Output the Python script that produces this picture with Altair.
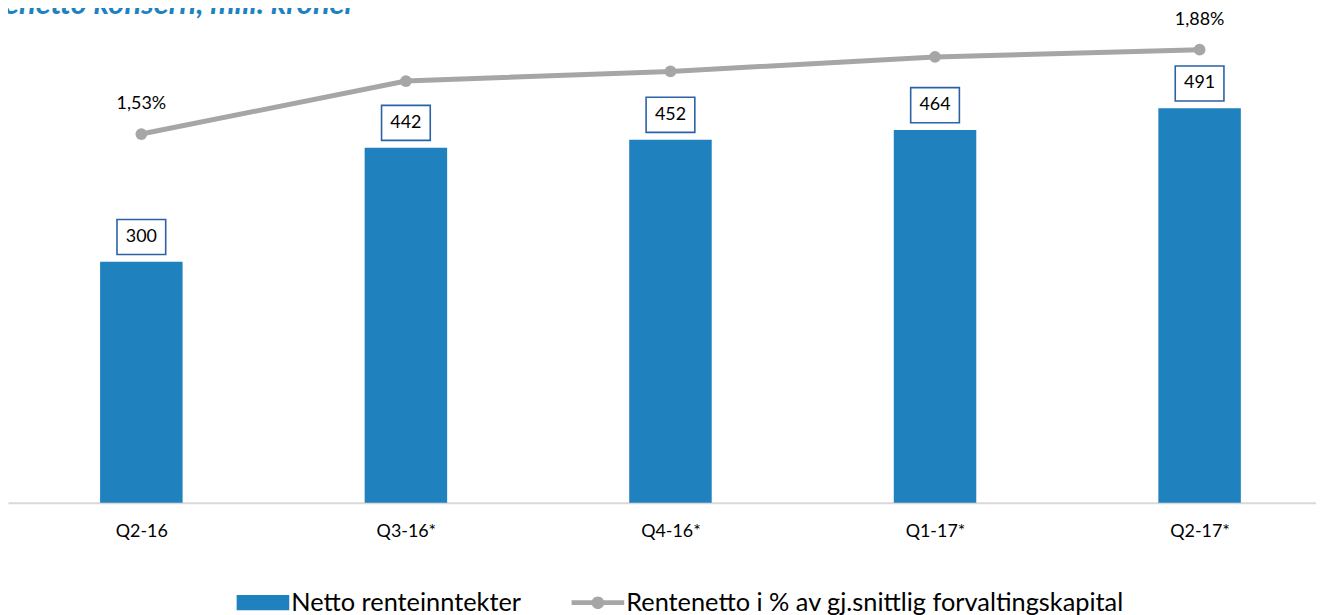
import altair as alt
import pandas as pd
import json

# ---- data ----
quarters = ["Q2-16", "Q3-16*", "Q4-16*", "Q1-17*", "Q2-17*"]
netto = [300, 442, 452, 464, 491]
pct = [1.53, 1.75, 1.79, 1.85, 1.88]
pct_labels = ["1,53%", "", "", "", "1,88%"]
series_names = ["Netto renteinntekter", "Rentenetto i % av gj.snittlig forvaltingskapital"]
title_text = ["enetto konsern, mill. kroner"]

BLUE = "#1F81BD"
GRAY = "#A6A6A6"
BOX = "#2A62A6"
FONT = "Lato"

df = pd.DataFrame({"i": list(range(len(quarters))), "q": quarters, "netto": netto,
                   "pct": pct, "plabel": pct_labels})
leg = pd.DataFrame({"series": series_names})
tdf = pd.DataFrame({"t": title_text})

BOX_PATH = "M-1,-0.72L1,-0.72L1,0.72L-1,0.72Z"
RECT_SYM = "M-1,-0.29L1,-0.29L1,0.29L-1,0.29Z"
LINE_SYM = "M-1,-0.09L1,-0.09L1,0.09L-1,0.09Z M0.24,0A0.24,0.24,0,1,1,-0.24,0A0.24,0.24,0,1,1,0.24,0Z"

xenc = alt.X(
    "i:Q", title=None,
    scale=alt.Scale(domain=[-0.504, 4.44], nice=False, zero=False, padding=0),
    axis=alt.Axis(values=list(range(len(quarters))), labelExpr=f"{json.dumps(quarters)}[datum.value]",
                  labelAngle=0, ticks=False, grid=False, domainColor="#D9D9D9", domainWidth=2,
                  labelFont=FONT, labelFontSize=18, labelColor="#000000", labelPadding=20,
                  labelFlush=False, labelOverlap=False),
)

base = alt.Chart(df).encode(x=xenc)

y_bar = alt.Y("netto:Q", scale=alt.Scale(domain=[0, 600], nice=False, zero=True), axis=None)
y_pct = alt.Y("pct:Q", scale=alt.Scale(domain=[0, 2.0], nice=False, zero=True), axis=None)

bars = base.mark_bar(size=83, color=BLUE).encode(y=y_bar)
boxes = base.mark_point(shape=BOX_PATH, size=2401, filled=True, fill="white", stroke=BOX,
                        strokeWidth=1.6, opacity=1, yOffset=-25).encode(y=y_bar)
box_text = base.mark_text(font=FONT, fontSize=18, color="#000000", baseline="middle",
                          yOffset=-25).encode(y=y_bar, text="netto:Q")
bar_layer = alt.layer(bars, boxes, box_text)

line = base.mark_line(color=GRAY, strokeWidth=5).encode(y=y_pct)
pts = base.mark_point(filled=True, color=GRAY, size=140, opacity=1).encode(y=y_pct)
ptxt = base.mark_text(font=FONT, fontSize=18, color="#000000", baseline="middle",
                      dy=-30).encode(y=y_pct, text="plabel:N")
legend_layer = alt.Chart(leg).mark_point(filled=True, opacity=0, size=1).encode(
    color=alt.Color("series:N", sort=series_names,
                    scale=alt.Scale(domain=series_names, range=[BLUE, GRAY]),
                    legend=alt.Legend(title=None, orient="none", direction="horizontal",
                                      legendX=230, legendY=559,
                                      labelFont=FONT, labelFontSize=25.5, labelColor="#000000",
                                      labelOffset=2, columnPadding=50, symbolSize=2800,
                                      symbolOpacity=1, symbolStrokeWidth=0,
                                      labelLimit=0)),
    shape=alt.Shape("series:N", sort=series_names,
                    scale=alt.Scale(domain=series_names, range=[RECT_SYM, LINE_SYM]),
                    legend=None),
)
title_layer = alt.Chart(tdf).mark_text(
    font=FONT, fontSize=31, fontStyle="italic", fontWeight="bold", color="#1F82C0",
    align="left", baseline="alphabetic"
).encode(x=alt.value(-4), y=alt.value(-7), text="t:N")
pct_layer = alt.layer(line, pts, ptxt)

chart = alt.layer(bar_layer, pct_layer, legend_layer, title_layer).resolve_scale(
    y="independent"
).properties(
    width=1316, height=485,
    padding={"left": 0, "top": 11, "right": 0, "bottom": 111},
    autosize=alt.AutoSizeParams(type="none"),
    background="white",
).configure_view(stroke="transparent", strokeWidth=0)

chart.save("out.html", embed_options={"renderer": "svg", "actions": False})
